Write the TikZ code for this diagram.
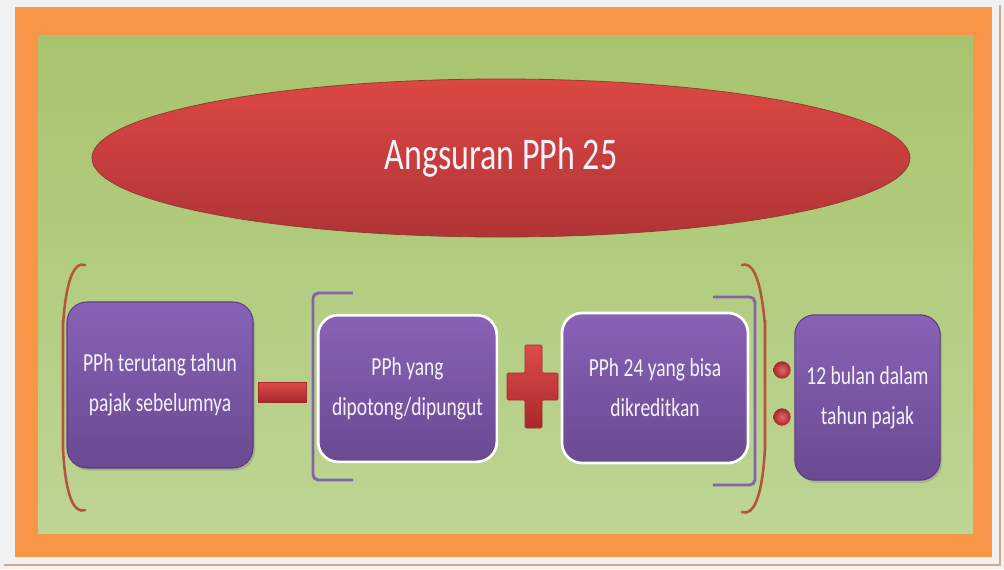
\documentclass[tikz,border=0pt]{standalone}
\usepackage{fontspec}
\setmainfont{Carlito}[FakeStretch=0.75]
\usetikzlibrary{shapes.geometric,shadows}
\definecolor{pageGray}{RGB}{241,241,241}
\definecolor{frameTan}{RGB}{212,168,138}
\definecolor{frameOrange}{RGB}{247,150,70}
\definecolor{fieldTop}{RGB}{168,196,110}
\definecolor{fieldBot}{RGB}{190,213,148}
\definecolor{ovalTop}{RGB}{220,72,68}
\definecolor{ovalBot}{RGB}{176,52,54}
\definecolor{ovalEdge}{RGB}{150,60,45}
\definecolor{boxTop}{RGB}{136,98,182}
\definecolor{boxBot}{RGB}{106,74,146}
\definecolor{boxEdge}{RGB}{90,62,125}
\definecolor{signTop}{RGB}{222,76,74}
\definecolor{signBot}{RGB}{168,40,44}
\definecolor{parenRed}{RGB}{181,83,60}
\definecolor{brackPurple}{RGB}{126,103,168}
\definecolor{labelWhite}{RGB}{246,242,250}

\begin{document}
\begin{tikzpicture}[x=0.75pt,y=0.75pt,yscale=-1,xscale=1,
  pbox/.style={rectangle,rounded corners=15pt,top color=boxTop,bottom color=boxBot,
    draw=boxEdge,line width=0.8pt,text=labelWhite,align=center,inner sep=0pt,
    font=\fontsize{19.5}{30}\selectfont},
  shadebox/.style={pbox,drop shadow={shadow xshift=1.5pt,shadow yshift=-2pt,opacity=0.35}},
  wbox/.style={pbox,draw=white,line width=2pt},
  sign/.style={top color=signTop,bottom color=signBot,draw=signBot,line width=0.4pt},
  dot/.style={circle,inner color=signTop!85!white,outer color=signBot,minimum size=13pt,inner sep=0pt},
  paren/.style={draw=parenRed,line width=1.9pt,line cap=round},
  brack/.style={draw=brackPurple,line width=2.2pt,rounded corners=4pt}]
\useasboundingbox (0,0) rectangle (1004,569);
%page and frame
\fill[pageGray] (0,0) rectangle (1004,569);
\draw[frameTan,line width=1.5pt] (1000,5) -- (1000,565) -- (4,565);
\fill[frameOrange] (15,7) rectangle (992,557);
\fill[top color=fieldTop,bottom color=fieldBot] (38,35) rectangle (973,533);
%title oval
\node[ellipse,minimum width=613.5pt,minimum height=118.5pt,top color=ovalTop,bottom color=ovalBot,
  draw=ovalEdge,line width=0.6pt,text=labelWhite,font=\fontsize{34}{40}\selectfont] (title) at (501,158) {Angsuran PPh 25};
%outer parentheses
\draw[paren] (85,265) to[out=200,in=90] (63,320) -- (63,450) to[out=-90,in=160] (85,510);
\draw[paren] (742,265) to[out=-20,in=90] (765,320) -- (765,450) to[out=-90,in=20] (742,512);
%inner brackets
\draw[brack] (353,293) -- (313,293) -- (313,480) -- (353,480);
\draw[brack] (713,297) -- (755,297) -- (755,485) -- (713,485);
%boxes
\node[shadebox,minimum width=139.5pt,minimum height=124.5pt] (prev) at (160,385) {PPh terutang tahun\\pajak sebelumnya};
\node[wbox,minimum width=134pt,minimum height=110pt] (withheld) at (407.5,388.5) {PPh yang\\dipotong/dipungut};
\node[wbox,minimum width=139.5pt,minimum height=112.5pt] (credit) at (655,388) {PPh 24 yang bisa\\dikreditkan};
\node[shadebox,minimum width=109pt,minimum height=124pt] (months) at (867.5,397.5) {12 bulan dalam\\tahun pajak};
%operators
\node[sign,rectangle,minimum width=36pt,minimum height=15pt,inner sep=0pt] (minus) at (282,392) {};
\coordinate (plus) at (533,386.5);
\draw[sign,rounded corners=1pt] (525,345) -- (542,345) -- (542,373) -- (558,373) -- (558,400) -- (542,400)
  -- (542,428) -- (525,428) -- (525,400) -- (507,400) -- (507,373) -- (525,373) -- cycle;
\node[dot] (dotA) at (782,370) {};
\node[dot] (dotB) at (782,417) {};
\end{tikzpicture}
\end{document}
